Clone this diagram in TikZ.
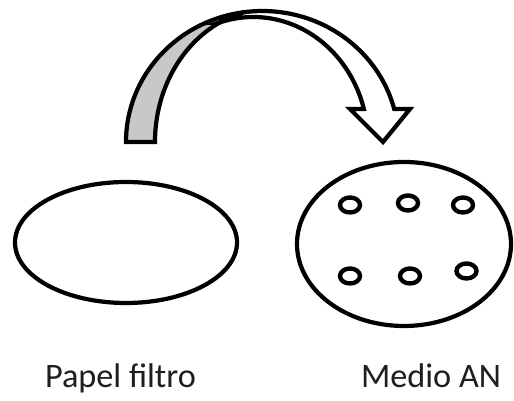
\documentclass[tikz,border=0pt]{standalone}
\usepackage{fontspec}
\setmainfont{Carlito}
\usetikzlibrary{shapes.geometric}
\definecolor{bandgray}{RGB}{200,200,200}
\definecolor{labeltext}{RGB}{30,30,30}
\tikzset{
  outline/.style={draw=black, line width=2.4pt},
  dish/.style={outline, ellipse, inner sep=0pt, fill=white},
  hole/.style={draw=black, line width=2.5pt, ellipse, inner sep=0pt, minimum width=20*0.02cm, minimum height=15*0.02cm},
  caption/.style={anchor=base, inner sep=0pt, font=\fontsize{19.5}{23}\selectfont, text=labeltext},
  band/.style={outline, line join=miter},
}
\begin{document}
\begin{tikzpicture}[x=0.02cm, y=0.02cm]
\useasboundingbox (0,0) rectangle (514,401);
% dishes
\node[dish, minimum width=222*0.02cm, minimum height=121*0.02cm] (paper) at (126,158.5) {};
\node[dish, minimum width=214*0.02cm, minimum height=164*0.02cm] (medium) at (404,157) {};
% holes in the medium
\node[hole] (h1) at (350,196) {};
\node[hole] (h2) at (408,198) {};
\node[hole] (h3) at (463,196) {};
\node[hole] (h4) at (350,125) {};
\node[hole] (h5) at (410,125) {};
\node[hole] (h6) at (466.5,130) {};
% captions
\node[caption] (lpaper) at (120.5,13) {Papel filtro};
\node[caption] (lmedium) at (431,13) {Medio AN};
% curved arrow: back band (gray)
\draw[band, fill=bandgray] (126,259)
  arc[start angle=180, end angle=97.29, x radius=136.3, y radius=131]
  arc[start angle=103.34, end angle=180, x radius=117, y radius=133.5]
  -- cycle;
% curved arrow: front band with head (white)
\draw[band, fill=white] (220,378.6)
  arc[start angle=116.39, end angle=103.34, x radius=117, y radius=133.5]
  arc[start angle=97.29, end angle=14.59, x radius=136.3, y radius=131]
  -- (410,292) -- (383,259) -- (350,292) -- (363.9,292)
  arc[start angle=15.31, end angle=106.9, x radius=114.7, y radius=125]
  -- cycle;
\end{tikzpicture}
\end{document}
